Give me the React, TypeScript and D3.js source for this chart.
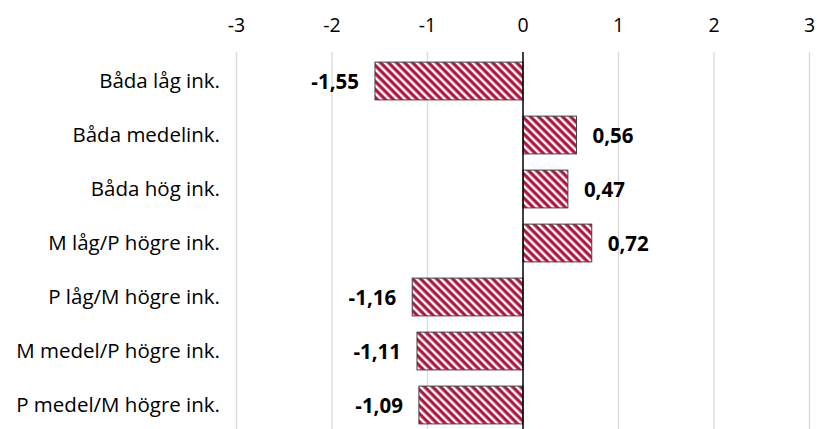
import React from "react";
import * as d3 from "d3";

const categories = [
  "Båda låg ink.",
  "Båda medelink.",
  "Båda hög ink.",
  "M låg/P högre ink.",
  "P låg/M högre ink.",
  "M medel/P högre ink.",
  "P medel/M högre ink.",
];
const values = [-1.55, 0.56, 0.47, 0.72, -1.16, -1.11, -1.09];
const tickValues = [-3, -2, -1, 0, 1, 2, 3];

const W = 817;
const H = 429;
const FONT = "'Open Sans', 'Noto Sans', sans-serif";
const FS = 20.5;

export default function App() {
  const x = d3.scaleLinear().domain([-3, 3]).range([236.5, 809.5]);
  const y = d3
    .scaleBand<string>()
    .domain(categories)
    .range([54, 432])
    .paddingInner(0.3)
    .paddingOuter(0.15);
  const fmt = (v: number) => v.toFixed(2).replace(".", ",");
  const P = 5.66;
  return (
    <svg
      width={W}
      height={H}
      style={{ position: "absolute", left: 0, top: 0, background: "#fff" }}
    >
      <defs>
        <pattern
          id="stripes"
          patternUnits="userSpaceOnUse"
          width={P}
          height={P}
          patternTransform="rotate(45)"
        >
          <rect width={P} height={P} fill="#fff" />
          <rect width={P} height={P * 0.58} fill="#B3163F" />
        </pattern>
      </defs>
      {tickValues.map((t) => (
        <g key={t}>
          {t !== 0 && (
            <line
              x1={x(t)}
              x2={x(t)}
              y1={52}
              y2={H}
              stroke="#d9d9d9"
              strokeWidth={1.3}
            />
          )}
          <text
            x={x(t)}
            y={25}
            dy="0.35em"
            textAnchor="middle"
            fontFamily={FONT}
            fontSize={FS - 1}
            fill="#000"
          >
            {t}
          </text>
        </g>
      ))}
      {values.map((v, i) => {
        const c = categories[i];
        const x0 = x(Math.min(0, v));
        const x1 = x(Math.max(0, v));
        const yy = y(c)!;
        const bw = y.bandwidth();
        return (
          <g key={c}>
            <rect
              x={x0}
              y={yy}
              width={x1 - x0}
              height={bw}
              fill="url(#stripes)"
              stroke="#404040"
              strokeWidth={1}
            />
            <text
              x={v < 0 ? x(v) - 16 : x(v) + 16}
              y={yy + bw / 2 + 1}
              dy="0.35em"
              textAnchor={v < 0 ? "end" : "start"}
              fontFamily={FONT}
              fontWeight="bold"
              fontSize={FS}
              fill="#000"
            >
              {fmt(v)}
            </text>
            <text
              x={220}
              y={yy + bw / 2}
              dy="0.35em"
              textAnchor="end"
              fontFamily={FONT}
              fontSize={FS}
              fill="#000"
            >
              {c}
            </text>
          </g>
        );
      })}
      <line x1={x(0)} x2={x(0)} y1={52} y2={H} stroke="#000" strokeWidth={1.5} />
    </svg>
  );
}
